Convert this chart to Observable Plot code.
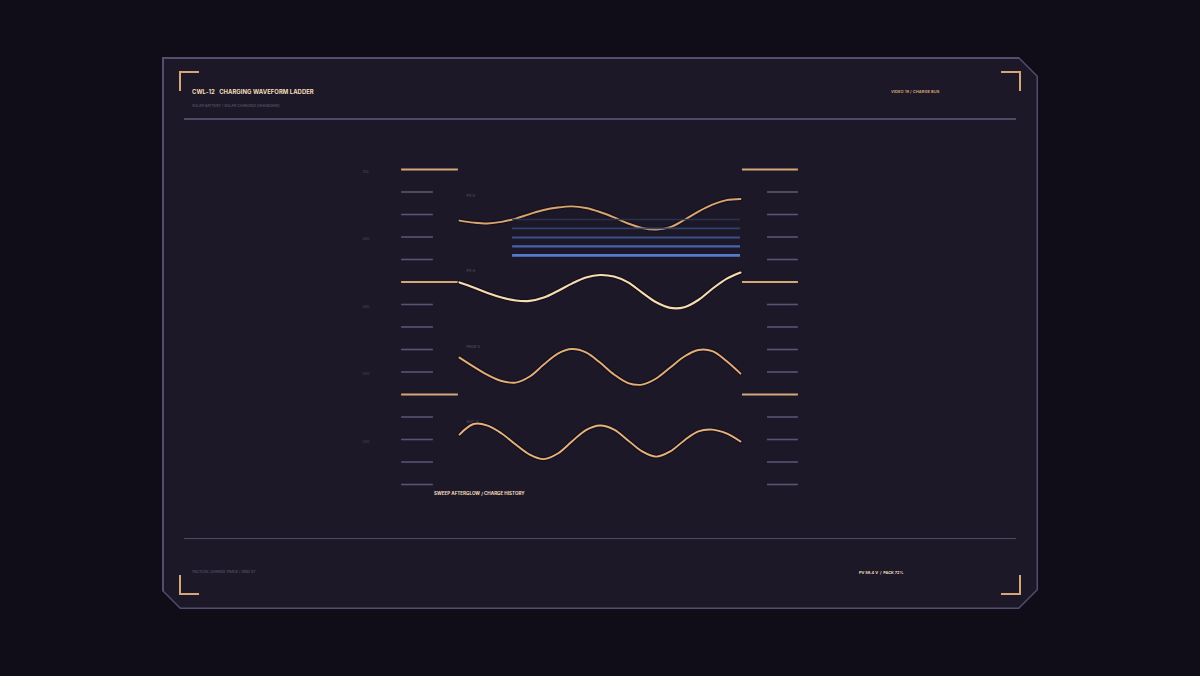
<!DOCTYPE html>
<html><head><meta charset="utf-8">
<script src="https://cdn.jsdelivr.net/npm/d3@7"></script>
<script src="https://cdn.jsdelivr.net/npm/@observablehq/plot@0.6"></script>
<style>
html,body{margin:0;padding:0;width:1200px;height:676px;background:#110d18;overflow:hidden;font-family:Inter,"Liberation Sans",sans-serif;}
.abs{position:absolute;}
#frame{left:162px;top:57px;width:876px;height:552px;background:#554d6d;clip-path:polygon(0 0,857px 0,876px 19px,876px 533px,857px 552px,18px 552px,0 534px);}
#panel{left:163.5px;top:58.5px;width:873px;height:549px;background:#1d1828;clip-path:polygon(0 0,855px 0,873px 18px,873px 531px,855px 549px,17px 549px,0 532px);}
.br{width:20px;height:20px;border:0 solid #d5a676;box-sizing:border-box;}
.hl{height:1.5px;background:#4f4866;left:184px;width:832px;}
.t{white-space:pre;line-height:1;}
#chart{left:340px;top:150px;}
</style></head>
<body>
<div id="frame" class="abs"></div>
<div id="panel" class="abs"></div>
<div class="abs br" style="left:179px;top:71px;border-top-width:2px;border-left-width:2px;"></div>
<div class="abs br" style="left:1001px;top:71px;border-top-width:2px;border-right-width:2px;"></div>
<div class="abs br" style="left:179px;top:575px;border-bottom-width:2px;border-left-width:2px;"></div>
<div class="abs br" style="left:1001px;top:575px;border-bottom-width:2px;border-right-width:2px;"></div>
<div class="abs hl" style="top:118px;"></div>
<div class="abs hl" style="top:537.5px;"></div>
<div class="abs t" id="title" style="left:192px;top:89px;font-size:5.9px;font-weight:700;color:#f1dcb8;letter-spacing:0.05px;"></div>
<div class="abs t" id="subtitle" style="left:192px;top:104.6px;font-size:3.6px;color:#6a6381;"></div>
<div class="abs t" id="hdrRight" style="left:891px;top:90px;font-size:4.1px;font-weight:600;color:#d9a877;"></div>
<div class="abs t" id="footLeft" style="left:192px;top:571.2px;font-size:3.6px;color:#6a6381;"></div>
<div class="abs t" id="footRight" style="left:859px;top:571px;font-size:3.9px;font-weight:700;color:#f1dcb8;"></div>
<div class="abs t" id="caption" style="left:434px;top:491.8px;font-size:4.55px;font-weight:700;color:#f1dcb8;"></div>
<div id="chart" class="abs"></div>
<script>
// ---- text ----
const titleText = "CWL-12   CHARGING WAVEFORM LADDER";
const subtitleText = "SOLAR BATTERY / SOLAR CHARGING DASHBOARD";
const headerRightText = "VIDEO 18 / CHARGE BUS";
const footerLeftText = "TACTICAL CHARGE TRACE / GRID 07";
const footerRightText = "PV 58.4 V  /  PACK 72%";
const captionText = "SWEEP AFTERGLOW / CHARGE HISTORY";

// ---- ladder (rung units, 0 = top) ----
const rungs = [0,1,2,3,4,5,6,7,8,9,10,11,12,13,14];
const majorRungs = [0,5,10];
const axisTickRungs = [0,3,6,9,12];
const axisTickLabels = ["100","080","060","040","020"];

// ---- sweep samples (fraction of sweep) ----
const sweepT = [0,0.05,0.1,0.15,0.2,0.25,0.3,0.35,0.4,0.45,0.5,0.55,0.6,0.65,0.7,0.75,0.8,0.85,0.9,0.95,1];

// ---- series values, read in rung units ----
const seriesNames = ["PV V","PV A","PACK V","SOC %"];
const seriesLabelRung = [1.16,4.49,7.87,11.2];
const pvV   = [2.27,2.36,2.40,2.33,2.18,1.98,1.80,1.69,1.64,1.71,1.89,2.13,2.40,2.60,2.67,2.56,2.24,1.87,1.56,1.36,1.31];
const pvA   = [5.02,5.24,5.49,5.69,5.82,5.84,5.69,5.40,5.07,4.80,4.69,4.76,5.02,5.47,5.90,6.15,6.12,5.80,5.30,4.86,4.58];
const packV = [8.36,8.76,9.13,9.40,9.47,9.20,8.67,8.18,7.98,8.13,8.58,9.11,9.49,9.56,9.29,8.80,8.31,8.02,8.07,8.51,9.07];
const soc   = [11.78,11.31,11.38,11.73,12.22,12.67,12.87,12.62,12.09,11.58,11.38,11.56,12.04,12.53,12.76,12.53,12.04,11.64,11.56,11.73,12.09];
const seriesColors = ["#d9a46f","#f6dcb0","#e2ad77","#e6b27c"];

// ---- afterglow history traces ----
const afterglowRungs = [2.22,2.62,3.02,3.42,3.82];
const afterglowColors = ["#28354f","#33476f","#3d5691","#4a69bd","#5b82da"];
const afterglowWidths = [1.6,1.8,2.0,2.3,2.8];
const afterglowStart = 0.189;

// ---- build tables ----
const seriesValues = [pvV,pvA,packV,soc];
const waveData = seriesNames.flatMap((name,i)=>sweepT.map((t,j)=>({name,i,t,v:seriesValues[i][j]})));
const rungData = rungs.map(r=>({r,major:majorRungs.includes(r)}));
const tickData = axisTickRungs.map((r,i)=>({r,label:axisTickLabels[i]}));
const glowData = afterglowRungs.map((r,i)=>({r,c:afterglowColors[i],w:afterglowWidths[i]}));
const labelData = seriesNames.map((name,i)=>({name,r:seriesLabelRung[i]}));

// layout of ladder rungs in sweep units
const L = {leftStart:-0.206, leftMinorEnd:-0.093, leftMajorEnd:-0.004, rightMajorStart:1.007, rightMinorStart:1.096, rightEnd:1.206, tickX:-0.345};

document.getElementById("title").textContent = titleText;
document.getElementById("subtitle").textContent = subtitleText;
document.getElementById("hdrRight").textContent = headerRightText;
document.getElementById("footLeft").textContent = footerLeftText;
document.getElementById("footRight").textContent = footerRightText;
document.getElementById("caption").textContent = captionText;

const wave = i => waveData.filter(d=>d.i===i);
const waveMarks = i => [
  Plot.line(wave(i),{x:"t",y:"v",curve:"catmull-rom",stroke:"#0f0b16",strokeWidth:4.2,strokeOpacity:0.7}),
  Plot.line(wave(i),{x:"t",y:"v",curve:"catmull-rom",stroke:seriesColors[i],strokeWidth:i===1?2.1:1.9})
];

const chart = Plot.plot({
  width:480, height:360,
  margin:0,
  style:{background:"transparent",overflow:"visible",fontFamily:"Inter, 'Liberation Sans', sans-serif"},
  x:{domain:[0,1],range:[119,400],axis:null},
  y:{domain:[0,14],range:[19,334],axis:null},
  marks:[
    Plot.ruleY(rungData.filter(d=>!d.major),{y:"r",x1:L.leftStart,x2:L.leftMinorEnd,stroke:"#5a5471",strokeWidth:1.6}),
    Plot.ruleY(rungData.filter(d=>!d.major),{y:"r",x1:L.rightMinorStart,x2:L.rightEnd,stroke:"#5a5471",strokeWidth:1.6}),
    Plot.ruleY(rungData.filter(d=>d.major),{y:"r",x1:L.leftStart,x2:L.leftMajorEnd,stroke:"#d5a676",strokeWidth:2}),
    Plot.ruleY(rungData.filter(d=>d.major),{y:"r",x1:L.rightMajorStart,x2:L.rightEnd,stroke:"#d5a676",strokeWidth:2}),
    Plot.text(tickData,{x:L.tickX,y:"r",text:"label",dy:2,textAnchor:"start",fill:"#4c4662",fontSize:3.6}),
    Plot.text(labelData,{x:0,y:"r",text:"name",dx:7,textAnchor:"start",fill:"#5f5877",fontSize:3.8}),
    ...waveMarks(0),
    Plot.ruleY(glowData,{y:"r",x1:afterglowStart,x2:1,stroke:"c",strokeWidth:"w",strokeOpacity:0.92}),
    ...waveMarks(1),
    ...waveMarks(2),
    ...waveMarks(3)
  ]
});
document.getElementById("chart").appendChild(chart);
</script>
</body></html>
